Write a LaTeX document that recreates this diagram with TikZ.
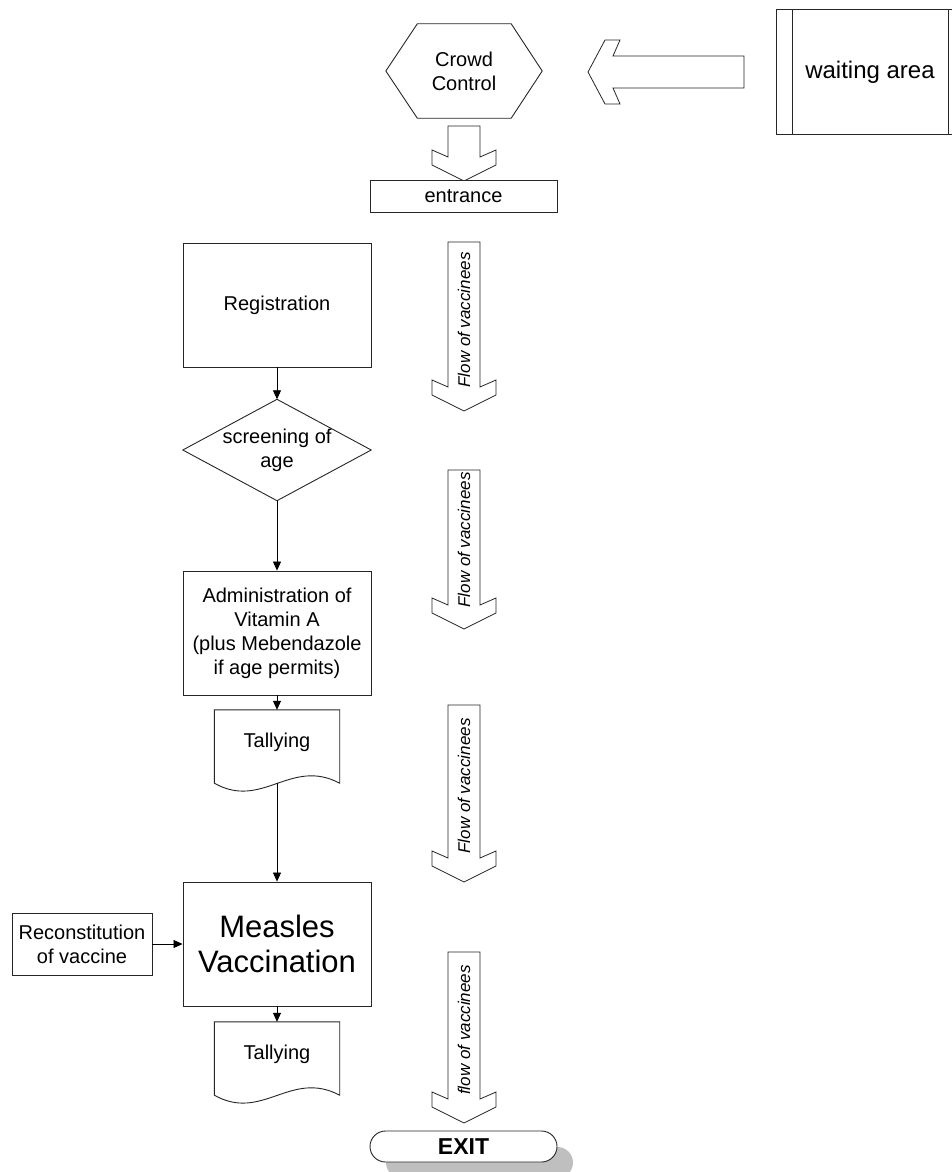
\documentclass[tikz,border=0pt]{standalone}
\usepackage{fontspec}
\setmainfont{Liberation Sans}
\usetikzlibrary{arrows.meta}
\newcommand\vflowarrow[2]{%
  \draw[blockarrow] (448,#1) -- (480,#1) -- (480,#2) -- (496,{#2-7}) -- (496,{#2+8}) -- (464,{#2+24}) -- (432,{#2+8}) -- (432,{#2-7}) -- (448,#2) -- cycle;}
\begin{document}
\begin{tikzpicture}[x=1pt,y=-1pt,
  box/.style={draw=black!85, line width=0.9pt, fill=white, inner sep=2pt, align=center, font=\fontsize{20}{24}\selectfont},
  ghost/.style={inner sep=2pt, align=center, font=\fontsize{20}{24}\selectfont},
  outline/.style={draw=black!85, line width=0.9pt, fill=white, line join=miter},
  conn/.style={draw=black, line width=0.8pt, -{Triangle[length=9pt,width=8pt]}},
  blockarrow/.style={draw=black!85, line width=0.8pt, fill=white, line join=miter},
  flowtext/.style={font=\itshape\fontsize{17}{20}\selectfont, rotate=90, inner sep=0pt}]
\useasboundingbox (0,0) rectangle (952,1172);
\fill[white] (0,0) rectangle (952,1172);
\clip (0,0) rectangle (952,1172);

% waiting area (predefined process)
\draw[outline] (776,9) rectangle (963,134);
\draw[black!85, line width=0.9pt] (792,9) -- (792,134) (948,9) -- (948,134);
\node[ghost, font=\fontsize{24}{28}\selectfont] (wait) at (870,72) {waiting area};

% left block arrow
\draw[blockarrow] (744,56) -- (613,56) -- (620,40) -- (605,40) -- (588,72) -- (605,104) -- (620,104) -- (613,88) -- (744,88) -- cycle;

% crowd control hexagon
\node[ghost, minimum width=156pt, minimum height=94pt] (crowd) at (464,71) {};
\draw[outline] (crowd.west) -- ([xshift=31.5pt]crowd.north west) -- ([xshift=-31pt]crowd.north east) -- (crowd.east) -- ([xshift=-31pt]crowd.south east) -- ([xshift=31.5pt]crowd.south west) -- cycle;
\node[ghost] at (crowd) {Crowd\\Control};

% crowd -> entrance arrow
\vflowarrow{126}{157}

\node[box, minimum width=187pt, minimum height=32pt] (entrance) at (463.5,196) {entrance};

% flow arrows
\vflowarrow{242}{387}
\node[flowtext] (flow1) at (464,320) {Flow of vaccinees};
\vflowarrow{470}{605}
\node[flowtext] (flow2) at (464,540) {Flow of vaccinees};
\vflowarrow{705}{858}
\node[flowtext] (flow3) at (464,786) {Flow of vaccinees};
\vflowarrow{952}{1099}
\node[flowtext] (flow4) at (464,1030) {flow of vaccinees};

% main column
\node[box, minimum width=188pt, minimum height=124pt] (reg) at (277,305) {Registration};

\node[ghost, minimum width=188pt, minimum height=101pt] (screen) at (277,450) {};
\draw[outline] (screen.north) -- (screen.east) -- (screen.south) -- (screen.west) -- cycle;
\node[ghost] at (screen) {screening of\\age};

\node[box, minimum width=188pt, minimum height=124pt] (admin) at (277,633) {Administration of\\Vitamin A\\(plus Mebendazole\\if age permits)};

\node[ghost, minimum width=125pt, minimum height=73pt] (tally1) at (277,746.5) {};
\draw[outline] (tally1.south west) -- (tally1.north west) -- (tally1.north east) -- (tally1.south east)
  .. controls ([xshift=-49pt,yshift=26pt]tally1.south east) and ([xshift=48pt,yshift=-27pt]tally1.south west) .. (tally1.south west) -- cycle;
\node[ghost, text depth=13pt] at (tally1) {Tallying};

\node[box, minimum width=188pt, minimum height=124pt, font=\fontsize{31}{35}\selectfont] (measles) at (277,944) {Measles\\Vaccination};

\node[box, minimum width=140pt, minimum height=62pt] (recon) at (82,944) {Reconstitution\\of vaccine};

\node[ghost, minimum width=125pt, minimum height=73pt] (tally2) at (277,1058.5) {};
\draw[outline] (tally2.south west) -- (tally2.north west) -- (tally2.north east) -- (tally2.south east)
  .. controls ([xshift=-49pt,yshift=26pt]tally2.south east) and ([xshift=48pt,yshift=-27pt]tally2.south west) .. (tally2.south west) -- cycle;
\node[ghost, text depth=13pt] at (tally2) {Tallying};

% exit
\fill[black!25, rounded corners=15.5pt] (386,1147) rectangle (573,1178);
\node[box, rounded corners=15.5pt, minimum width=187pt, minimum height=31pt, font=\bfseries\fontsize{23}{26}\selectfont] (exit) at (463.5,1146.5) {EXIT};

% connectors
\draw[conn] (reg.south) -- (screen.north);
\draw[conn] (screen.south) -- (admin.north);
\draw[conn] (admin.south) -- (tally1.north);
\draw[conn] (tally1.south) -- (measles.north);
\draw[conn] (measles.south) -- (tally2.north);
\draw[conn] (recon.east) -- (measles.west);
\end{tikzpicture}
\end{document}
